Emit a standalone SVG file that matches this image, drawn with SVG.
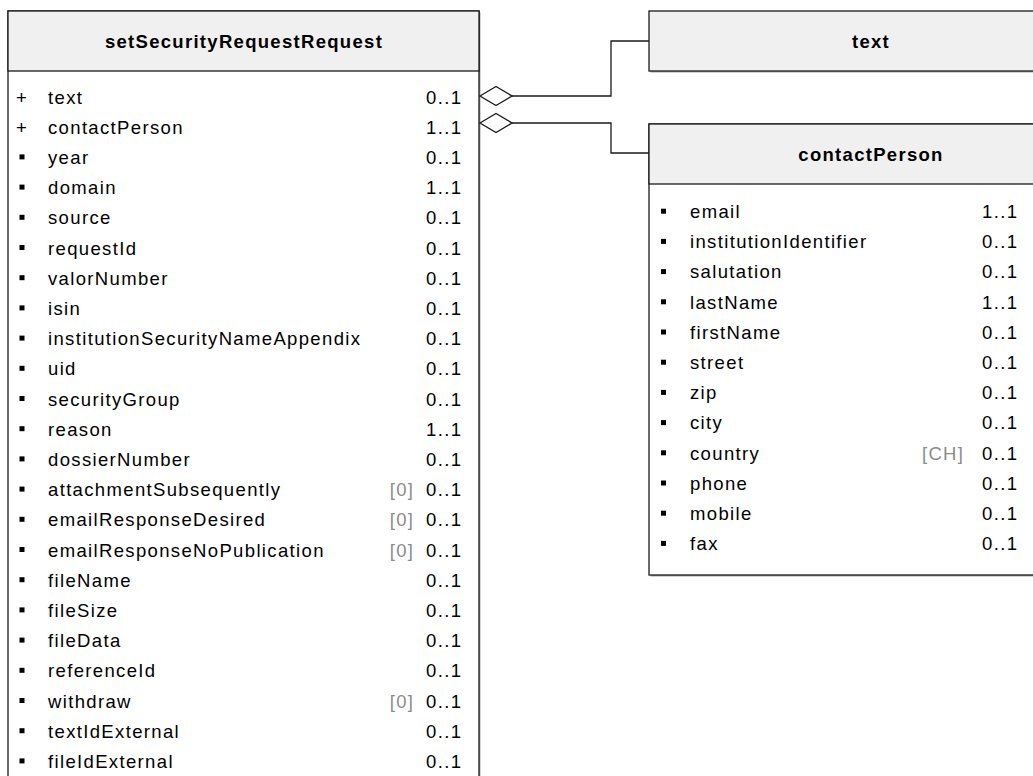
<svg xmlns="http://www.w3.org/2000/svg" width="1033" height="776" viewBox="0 0 1033 776">
<style>
.box{fill:#ffffff;stroke:#1a1a1a;stroke-width:1.3}
.hdr{fill:#f0f0f0;stroke:#1a1a1a;stroke-width:1.3}
.shadow{fill:#a8a8a8}
.title{font-family:"Liberation Sans",Arial,sans-serif;font-size:18.5px;font-weight:bold;letter-spacing:1.3px;fill:#000;text-anchor:middle}
.t{font-family:"Liberation Sans",Arial,sans-serif;font-size:18.5px;letter-spacing:1.35px;fill:#000}
.m{text-anchor:end}
.d{fill:#8c8c8c;text-anchor:end}
.b{fill:#000}
.conn{fill:none;stroke:#1a1a1a;stroke-width:1.3}
.dia{fill:#ffffff;stroke:#1a1a1a;stroke-width:1.3}
</style>
<rect width="1033" height="776" fill="#ffffff"/>

<g id="setSecurityRequestRequest">
<rect class="shadow" x="9.5" y="12.5" width="471" height="790"/>
<rect class="box" x="8" y="11" width="471" height="790"/>
<rect class="hdr" x="8" y="11" width="471" height="60"/>
<text class="title" x="244" y="47.5">setSecurityRequestRequest</text>
<g class="t">
<text x="16" y="103.5">+</text><text x="48" y="103.5">text</text><text class="m" x="462.3" y="103.5">0..1</text>
<text x="16" y="133.7">+</text><text x="48" y="133.7">contactPerson</text><text class="m" x="462.3" y="133.7">1..1</text>
<text x="48" y="163.9">year</text><text class="m" x="462.3" y="163.9">0..1</text>
<text x="48" y="194.1">domain</text><text class="m" x="462.3" y="194.1">1..1</text>
<text x="48" y="224.3">source</text><text class="m" x="462.3" y="224.3">0..1</text>
<text x="48" y="254.5">requestId</text><text class="m" x="462.3" y="254.5">0..1</text>
<text x="48" y="284.7">valorNumber</text><text class="m" x="462.3" y="284.7">0..1</text>
<text x="48" y="314.9">isin</text><text class="m" x="462.3" y="314.9">0..1</text>
<text x="48" y="345.1">institutionSecurityNameAppendix</text><text class="m" x="462.3" y="345.1">0..1</text>
<text x="48" y="375.3">uid</text><text class="m" x="462.3" y="375.3">0..1</text>
<text x="48" y="405.5">securityGroup</text><text class="m" x="462.3" y="405.5">0..1</text>
<text x="48" y="435.7">reason</text><text class="m" x="462.3" y="435.7">1..1</text>
<text x="48" y="465.9">dossierNumber</text><text class="m" x="462.3" y="465.9">0..1</text>
<text x="48" y="496.1">attachmentSubsequently</text><text class="d" x="414.3" y="496.1">[0]</text><text class="m" x="462.3" y="496.1">0..1</text>
<text x="48" y="526.3">emailResponseDesired</text><text class="d" x="414.3" y="526.3">[0]</text><text class="m" x="462.3" y="526.3">0..1</text>
<text x="48" y="556.5">emailResponseNoPublication</text><text class="d" x="414.3" y="556.5">[0]</text><text class="m" x="462.3" y="556.5">0..1</text>
<text x="48" y="586.7">fileName</text><text class="m" x="462.3" y="586.7">0..1</text>
<text x="48" y="616.9">fileSize</text><text class="m" x="462.3" y="616.9">0..1</text>
<text x="48" y="647.1">fileData</text><text class="m" x="462.3" y="647.1">0..1</text>
<text x="48" y="677.3">referenceId</text><text class="m" x="462.3" y="677.3">0..1</text>
<text x="48" y="707.5">withdraw</text><text class="d" x="414.3" y="707.5">[0]</text><text class="m" x="462.3" y="707.5">0..1</text>
<text x="48" y="737.7">textIdExternal</text><text class="m" x="462.3" y="737.7">0..1</text>
<text x="48" y="767.9">fileIdExternal</text><text class="m" x="462.3" y="767.9">0..1</text>
</g>
<g class="b">
<rect x="19.5" y="154.4" width="5" height="5"/>
<rect x="19.5" y="184.6" width="5" height="5"/>
<rect x="19.5" y="214.8" width="5" height="5"/>
<rect x="19.5" y="245" width="5" height="5"/>
<rect x="19.5" y="275.2" width="5" height="5"/>
<rect x="19.5" y="305.4" width="5" height="5"/>
<rect x="19.5" y="335.6" width="5" height="5"/>
<rect x="19.5" y="365.8" width="5" height="5"/>
<rect x="19.5" y="396" width="5" height="5"/>
<rect x="19.5" y="426.2" width="5" height="5"/>
<rect x="19.5" y="456.4" width="5" height="5"/>
<rect x="19.5" y="486.6" width="5" height="5"/>
<rect x="19.5" y="516.8" width="5" height="5"/>
<rect x="19.5" y="547" width="5" height="5"/>
<rect x="19.5" y="577.2" width="5" height="5"/>
<rect x="19.5" y="607.4" width="5" height="5"/>
<rect x="19.5" y="637.6" width="5" height="5"/>
<rect x="19.5" y="667.8" width="5" height="5"/>
<rect x="19.5" y="698" width="5" height="5"/>
<rect x="19.5" y="728.2" width="5" height="5"/>
<rect x="19.5" y="758.4" width="5" height="5"/>
</g>
</g>

<g id="text">
<rect class="shadow" x="650.5" y="12.5" width="442" height="60"/>
<rect class="hdr" x="649" y="11" width="442" height="60"/>
<text class="title" x="871" y="47.5">text</text>
</g>

<g id="contactPerson">
<rect class="shadow" x="650.5" y="125.5" width="442" height="451"/>
<rect class="box" x="649" y="124" width="442" height="451"/>
<rect class="hdr" x="649" y="124" width="442" height="60"/>
<text class="title" x="871" y="160.5">contactPerson</text>
<g class="t">
<text x="690" y="218">email</text><text class="m" x="1018.3" y="218">1..1</text>
<text x="690" y="248.2">institutionIdentifier</text><text class="m" x="1018.3" y="248.2">0..1</text>
<text x="690" y="278.4">salutation</text><text class="m" x="1018.3" y="278.4">0..1</text>
<text x="690" y="308.6">lastName</text><text class="m" x="1018.3" y="308.6">1..1</text>
<text x="690" y="338.8">firstName</text><text class="m" x="1018.3" y="338.8">0..1</text>
<text x="690" y="369">street</text><text class="m" x="1018.3" y="369">0..1</text>
<text x="690" y="399.2">zip</text><text class="m" x="1018.3" y="399.2">0..1</text>
<text x="690" y="429.4">city</text><text class="m" x="1018.3" y="429.4">0..1</text>
<text x="690" y="459.6">country</text><text class="d" x="964.3" y="459.6">[CH]</text><text class="m" x="1018.3" y="459.6">0..1</text>
<text x="690" y="489.8">phone</text><text class="m" x="1018.3" y="489.8">0..1</text>
<text x="690" y="520">mobile</text><text class="m" x="1018.3" y="520">0..1</text>
<text x="690" y="550.2">fax</text><text class="m" x="1018.3" y="550.2">0..1</text>
</g>
<g class="b">
<rect x="661" y="208.7" width="5" height="5"/>
<rect x="661" y="238.9" width="5" height="5"/>
<rect x="661" y="269.1" width="5" height="5"/>
<rect x="661" y="299.3" width="5" height="5"/>
<rect x="661" y="329.5" width="5" height="5"/>
<rect x="661" y="359.7" width="5" height="5"/>
<rect x="661" y="389.9" width="5" height="5"/>
<rect x="661" y="420.1" width="5" height="5"/>
<rect x="661" y="450.3" width="5" height="5"/>
<rect x="661" y="480.5" width="5" height="5"/>
<rect x="661" y="510.7" width="5" height="5"/>
<rect x="661" y="540.9" width="5" height="5"/>
</g>
</g>

<g id="connectors">
<polyline class="conn" points="512,96 611,96 611,41 649,41"/>
<polygon class="dia" points="480,96 496,86.5 512,96 496,105.5"/>
<polyline class="conn" points="512,123 611,123 611,153 649,153"/>
<polygon class="dia" points="480,123 496,113.5 512,123 496,132.5"/>
</g>
</svg>
